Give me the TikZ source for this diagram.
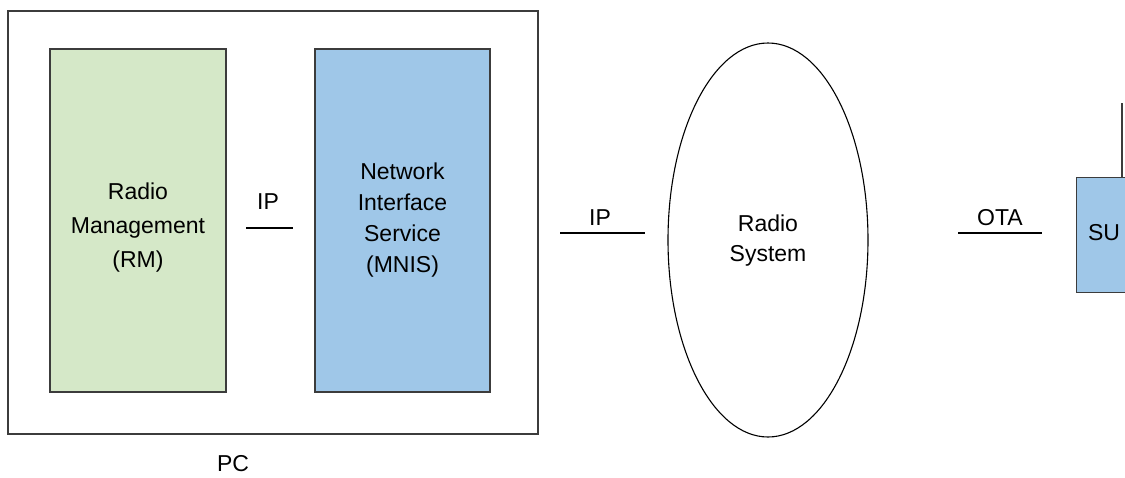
\documentclass[tikz,border=0pt]{standalone}
\usepackage{fontspec}
\setmainfont{Liberation Sans}
\usetikzlibrary{shapes.geometric}
\definecolor{rmgreen}{HTML}{D5E8C8}
\definecolor{mblue}{HTML}{9FC7E8}
\definecolor{edge}{HTML}{3C3C3C}
\begin{document}
\begin{tikzpicture}[x=1pt,y=-1pt,
  box/.style={draw=edge,line width=1.3pt,inner sep=0pt},
  lbl/.style={font=\fontsize{23}{34}\selectfont,align=center,text=black,inner sep=0pt},
  link/.style={draw=black,line width=1.1pt}]
\useasboundingbox (0,0) rectangle (1125,477);
% PC box
\node[box,fill=white,minimum width=530pt,minimum height=423pt] (pc) at (273,222.5) {};
\node[lbl] (pclabel) at (233,464) {PC};
% RM
\node[box,fill=rmgreen,minimum width=176pt,minimum height=343pt] (rm) at (138,220.5) {};
\node[lbl] (rmtext) at (138,228) {Radio\\Management\\(RM)};
% MNIS
\node[box,fill=mblue,minimum width=175pt,minimum height=343pt] (mnis) at (402.5,220.5) {};
\node[lbl,font=\fontsize{23}{31}\selectfont] (mnistext) at (402.5,220) {Network\\Interface\\Service\\(MNIS)};
% IP 1
\coordinate (ip1a) at (246,228);
\coordinate (ip1b) at (293,228);
\draw[link] (ip1a) -- (ip1b);
\node[lbl] (ip1) at (268,202) {IP};
% IP 2
\coordinate (ip2a) at (560,233);
\coordinate (ip2b) at (645,233);
\draw[link] (ip2a) -- (ip2b);
\node[lbl] (ip2) at (600,218) {IP};
% Radio System
\node[draw=black,line width=1.1pt,ellipse,minimum width=200pt,minimum height=394pt,inner sep=0pt] (rs) at (768,240) {};
\node[lbl,font=\fontsize{23}{30}\selectfont] (rstext) at (768,241) {Radio\\System};
% OTA
\coordinate (otaa) at (958,233);
\coordinate (otab) at (1042,233);
\draw[link] (otaa) -- (otab);
\node[lbl] (ota) at (1000,218) {OTA};
% SU
\node[box,fill=mblue,minimum width=100pt,minimum height=115pt,anchor=north west] (su) at (1076,177) {};
\node[lbl] (sutext) at (1104,233) {SU};
\coordinate (anttop) at (1122,103);
\coordinate (antbot) at (1122,177);
\draw[draw=edge,line width=1.1pt] (antbot) -- (anttop);
\end{tikzpicture}
\end{document}
